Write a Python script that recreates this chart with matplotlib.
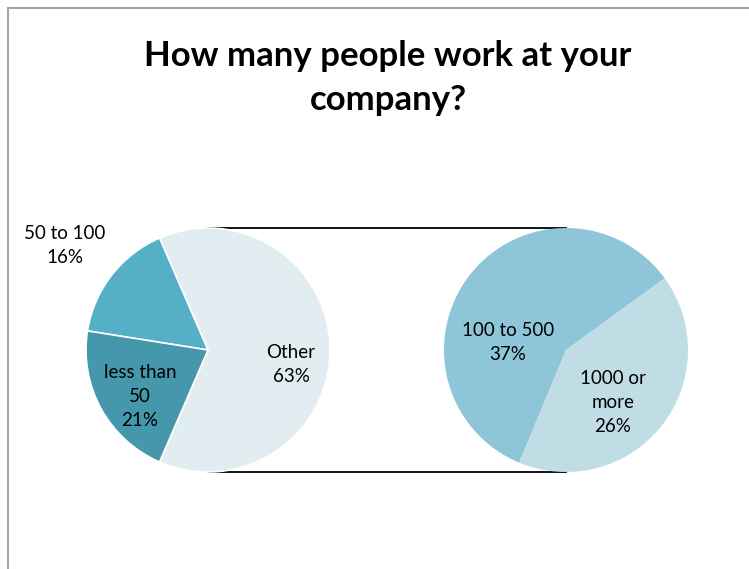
import matplotlib.pyplot as plt
from matplotlib.patches import Rectangle

# survey answers (percent of respondents)
main_labels = ["Other", "50 to 100", "less than\n50"]
sub_labels = ["100 to 500", "1000 or\nmore"]
sub_values = [37, 26]
main_values = [sum(sub_values), 16, 21]

main_colors = ["#e1edf1", "#55afc7", "#4597ab"]
sub_colors = ["#8fc5d8", "#c0dce5"]

plt.rcParams["font.family"] = ["Lato", "DejaVu Sans"]

fig = plt.figure(figsize=(7.49, 5.69), dpi=100)
ax = fig.add_axes([0, 0, 1, 1])

# chart frame, running off the right and bottom edges
fig.patches.append(Rectangle((8 / 749, -0.1), 1.2, (569 - 8) / 569 + 0.1,
                             transform=fig.transFigure, fill=False,
                             edgecolor="#a6a6a6", linewidth=1.5))

r = 122
left_c = (208, 219)
right_c = (566, 219)

other_start = -main_values[0] / sum(main_values) * 360 / 2
ax.pie(main_values, colors=main_colors, startangle=other_start, counterclock=True,
       center=left_c, radius=r, wedgeprops=dict(edgecolor="white", linewidth=1.2),
       frame=True)
ax.pie(sub_values, colors=sub_colors, startangle=36, counterclock=True,
       center=right_c, radius=r, wedgeprops=dict(linewidth=0), frame=True)
ax.set_xlim(0, 749)
ax.set_ylim(0, 569)
ax.set_aspect("equal")
ax.axis("off")

# connector lines between the two pies
for dy in (r, -r):
    ax.plot([left_c[0], right_c[0]], [left_c[1] + dy, right_c[1] + dy],
            color="black", linewidth=1.3, zorder=0)

main_pos = [(291, 205), (65, 324), (140, 172)]
sub_pos = [(508, 227), (613, 167)]
for lab, val, (x, y) in zip(main_labels, main_values, main_pos):
    ax.text(x, y, f"{lab}\n{val}%", ha="center", va="center", fontsize=13.5,
            linespacing=1.5, color="black")
for lab, val, (x, y) in zip(sub_labels, sub_values, sub_pos):
    ax.text(x, y, f"{lab}\n{val}%", ha="center", va="center", fontsize=13.5,
            linespacing=1.5, color="black")

ax.text(388, 491, "How many people work at your\ncompany?", ha="center", va="center",
        fontsize=25, fontweight="bold", linespacing=1.45)

fig.savefig("out.png", dpi=100)
